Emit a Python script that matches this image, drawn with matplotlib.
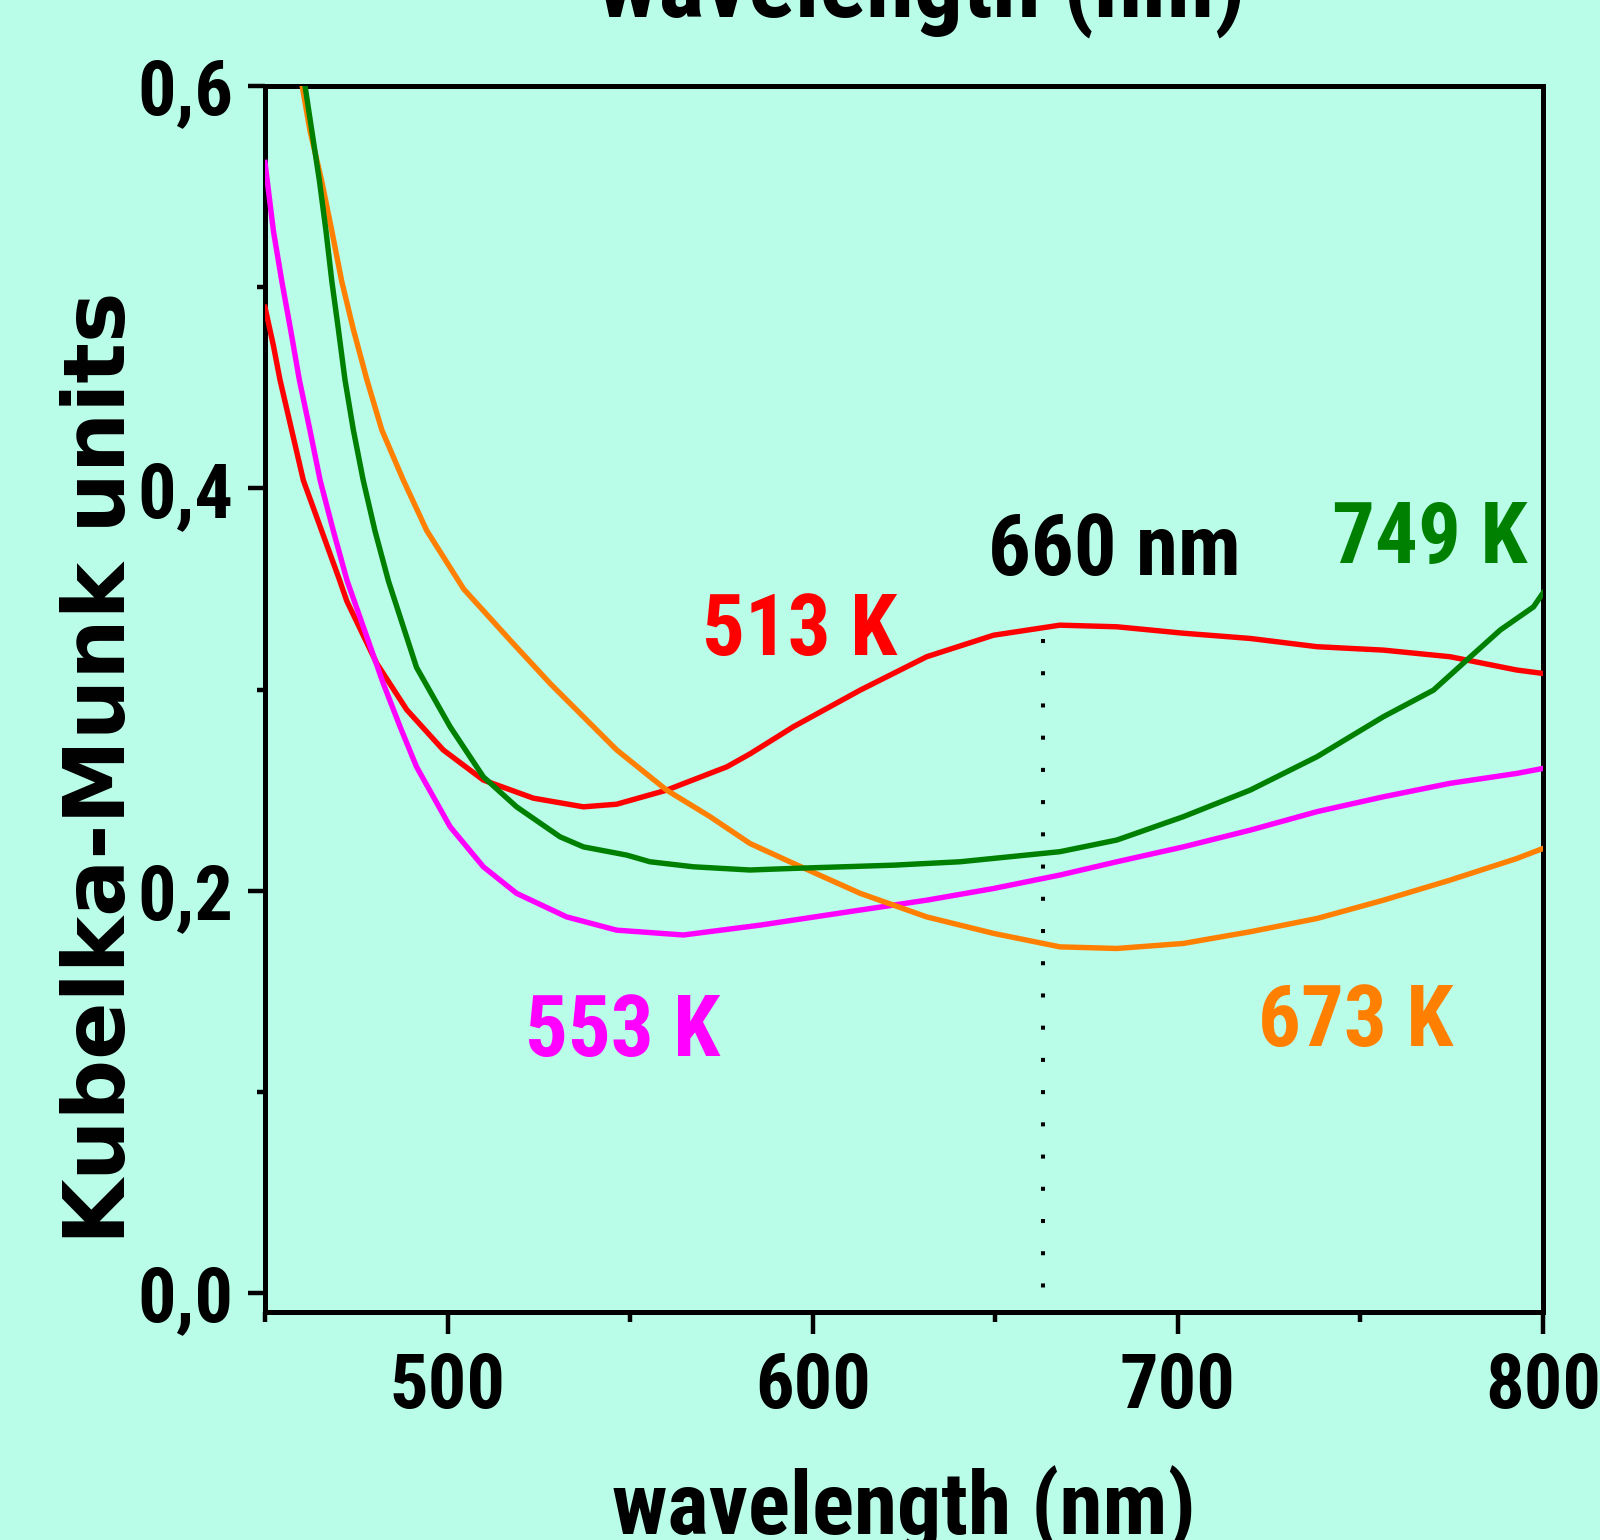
import matplotlib
matplotlib.use("Agg")
import matplotlib.pyplot as plt
from matplotlib.ticker import FixedLocator, FixedFormatter

# ---- data ----
red_x = [450, 452.3, 454.1, 457.3, 460.5, 465.5, 470.5, 472.4, 480.6, 488.8, 498.8, 509.8,
         523.5, 537.2, 546.3, 560.0, 576.5, 582.8, 594.7, 613.0, 631.2, 649.5, 667.7, 683.3,
         701.5, 719.8, 738.1, 756.3, 774.6, 792.8, 800]
red_y = [0.490, 0.471, 0.454, 0.429, 0.404, 0.379, 0.354, 0.344, 0.313, 0.290, 0.270, 0.255,
         0.246, 0.2417, 0.243, 0.250, 0.2616, 0.268, 0.2815, 0.2997, 0.3163, 0.327, 0.332, 0.3312,
         0.328, 0.3254, 0.3213, 0.3196, 0.3163, 0.3097, 0.308]

mag_x = [450, 452.3, 454.6, 457.0, 459.4, 462.3, 465.1, 468.7, 472.5, 482.4, 487.0, 491.5,
         500.7, 509.8, 518.9, 532.6, 546.3, 564.6, 585.6, 613.0, 631.2, 649.5, 667.7, 683.3,
         701.5, 719.8, 738.1, 756.3, 774.6, 792.8, 800]
mag_y = [0.562, 0.528, 0.503, 0.479, 0.454, 0.429, 0.404, 0.379, 0.354, 0.303, 0.2815, 0.2616,
         0.2318, 0.2119, 0.1987, 0.187, 0.1804, 0.178, 0.1829, 0.1904, 0.1953, 0.2011, 0.2078,
         0.2144, 0.2218, 0.2301, 0.2393, 0.2467, 0.2534, 0.2583, 0.2608]

grn_x = [460.8, 462.8, 464.9, 466.7, 468.3, 470.1, 471.9, 474.2, 476.9, 480.1, 483.8, 491.5,
         500.7, 509.8, 518.9, 530.8, 537.2, 549.1, 555.4, 567.3, 582.8, 594.7, 622.1, 640.4,
         667.7, 683.3, 701.5, 719.8, 738.1, 756.3, 770.0, 779.1, 788.3, 797.4, 800]
grn_y = [0.602, 0.578, 0.553, 0.528, 0.503, 0.479, 0.454, 0.429, 0.404, 0.379, 0.354, 0.311,
         0.2815, 0.2566, 0.2417, 0.2268, 0.2218, 0.2177, 0.2144, 0.2119, 0.2103, 0.2111, 0.2127,
         0.2144, 0.2194, 0.2252, 0.2368, 0.250, 0.2666, 0.2865, 0.2997, 0.3146, 0.3296, 0.3411,
         0.348]

org_x = [460.0, 462.3, 465.5, 468.3, 471.0, 474.2, 477.9, 482.0, 487.9, 494.3, 504.4, 517.1,
         528.1, 537.2, 546.3, 560.0, 571.9, 582.8, 594.7, 613.0, 631.2, 649.5, 667.7, 683.3,
         701.5, 719.8, 738.1, 756.3, 774.6, 792.8, 800]
org_y = [0.602, 0.578, 0.553, 0.528, 0.503, 0.479, 0.454, 0.429, 0.404, 0.379, 0.350, 0.3246,
         0.303, 0.2865, 0.270, 0.250, 0.2368, 0.2235, 0.2136, 0.1987, 0.187, 0.1788, 0.1721,
         0.1713, 0.1738, 0.1796, 0.1862, 0.1953, 0.2053, 0.216, 0.221]

marker_nm = 663
marker_y = [0.325, 0.0]

x_major = [500, 600, 700, 800]
x_minor = [450, 550, 650, 750]
y_major = [0.0, 0.2, 0.4, 0.6]
y_major_labels = ["0,0", "0,2", "0,4", "0,6"]
y_minor = [0.1, 0.3, 0.5]

BG = "#B9FCE8"
NARROW = ["Liberation Sans Narrow", "DejaVu Sans Condensed", "Roboto Condensed", "Liberation Sans"]
W, H = 1600, 1540

fig = plt.figure(figsize=(W / 100, H / 100), dpi=100, facecolor=BG)
ax = fig.add_axes([265 / W, 1 - 1312 / H, (1543 - 265) / W, (1312 - 86) / H])
ax.set_facecolor(BG)

lw = 3.9
ax.plot(red_x, red_y, color="#FF0000", lw=lw, zorder=3)
ax.plot(mag_x, mag_y, color="#FF00FF", lw=lw, zorder=3)
ax.plot(grn_x, grn_y, color="#008000", lw=lw, zorder=4)
ax.plot(org_x, org_y, color="#FF8000", lw=lw, zorder=3)
ax.plot([marker_nm, marker_nm], marker_y, color="black", lw=2.9,
        linestyle=(0, (1, 7)), zorder=2)

ax.set_xlim(450, 800)
ax.set_ylim(-0.0094, 0.6)

for s in ax.spines.values():
    s.set_linewidth(3.6)
    s.set_color("black")

ax.xaxis.set_major_locator(FixedLocator(x_major))
ax.xaxis.set_minor_locator(FixedLocator(x_minor))
ax.yaxis.set_major_locator(FixedLocator(y_major))
ax.yaxis.set_major_formatter(FixedFormatter(y_major_labels))
ax.yaxis.set_minor_locator(FixedLocator(y_minor))

ax.tick_params(axis="x", which="major", direction="out", length=16, width=3.2, pad=12)
ax.tick_params(axis="x", which="minor", direction="out", length=7, width=3.2)
ax.tick_params(axis="y", which="major", direction="out", length=12, width=3.2, pad=11)
ax.tick_params(axis="y", which="minor", direction="out", length=6, width=3.2)

for lab in ax.get_xticklabels() + ax.get_yticklabels():
    lab.set_fontfamily(NARROW)
    lab.set_fontweight("bold")
    lab.set_fontsize(55)

def ftext(xp, yp, s, **kw):
    return fig.text(xp / W, 1 - yp / H, s, **kw)

# x label at bottom (cut at image edge) and repeated title at top (cut)
ftext((619 + 1189) / 2, 1535, "wavelength (nm)", ha="center", va="baseline",
      fontsize=63, fontweight="bold", family=NARROW)
ftext((607 + 1235) / 2, 17, "wavelength (nm)", ha="center", va="baseline",
      fontsize=70, fontweight="bold", family=NARROW)

# y label
ftext(125, 768, "Kubelka-Munk units", rotation=90, rotation_mode="anchor",
      ha="center", va="baseline", fontsize=61, fontweight="bold", family="DejaVu Sans")

# annotations
ann = dict(fontsize=61, fontweight="bold", family=NARROW, ha="left", va="baseline")
ftext(702, 655, "513 K", color="#FF0000", **ann)
ftext(988, 575, "660 nm", color="black", **ann)
ftext(1332, 563, "749 K", color="#008000", **ann)
ftext(525, 1056, "553 K", color="#FF00FF", **ann)
ftext(1258, 1046, "673 K", color="#FF8000", **ann)

fig.savefig("out.png", dpi=100, facecolor=BG)
